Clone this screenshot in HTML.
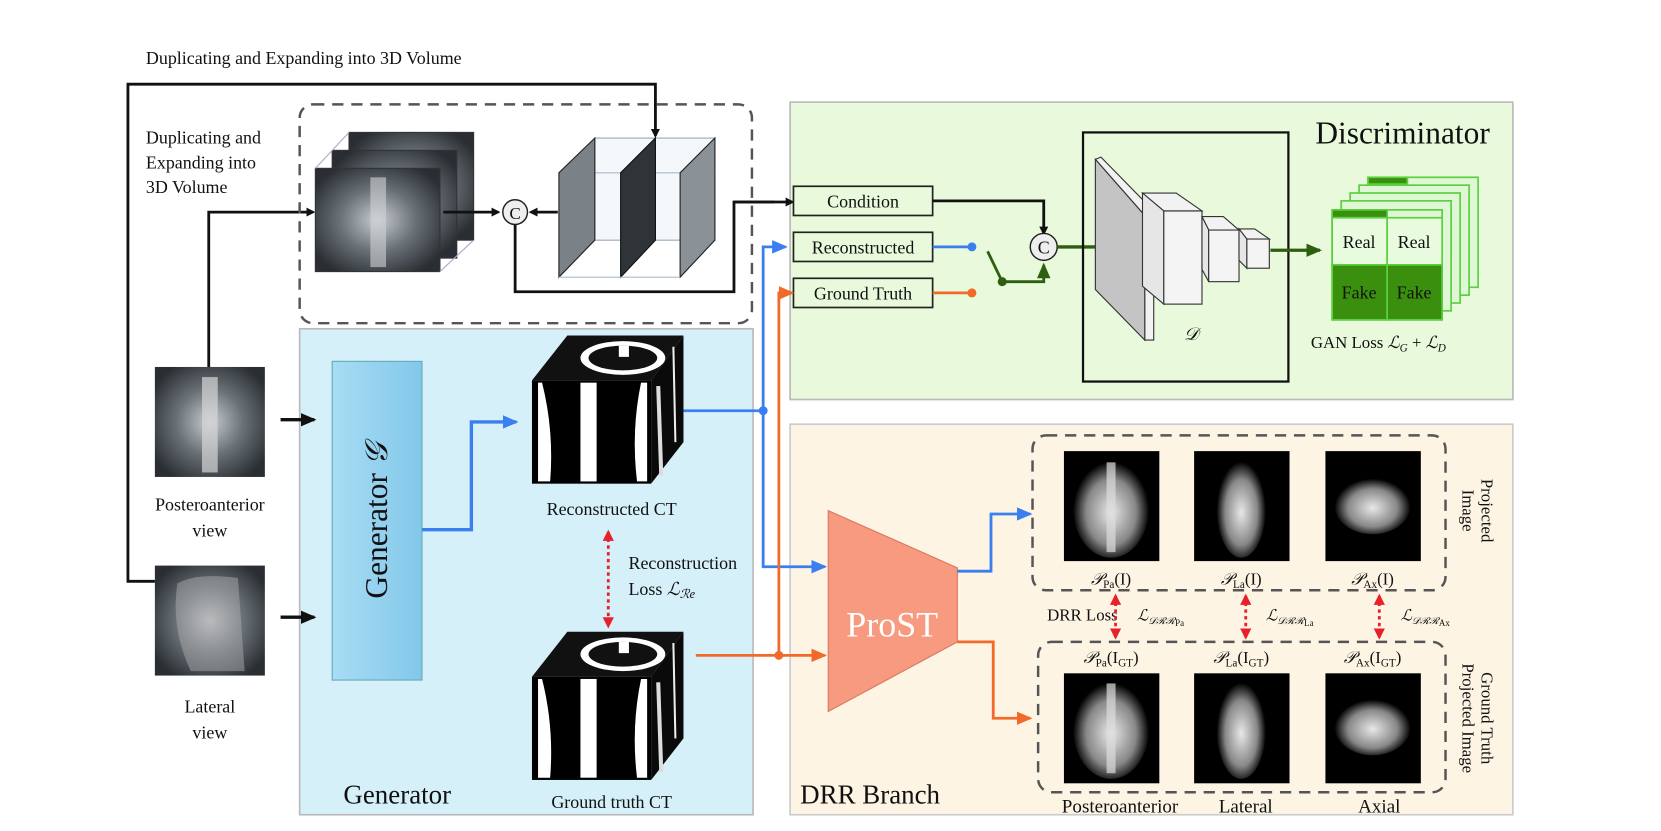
<!DOCTYPE html>
<html><head><meta charset="utf-8"><style>
html,body{margin:0;padding:0;background:#fff;}
svg{display:block;}
text{font-family:"Liberation Serif",serif;fill:#111;}
</style></head><body>
<svg width="1661" height="831" viewBox="0 0 1480 740.5" preserveAspectRatio="none" xmlns="http://www.w3.org/2000/svg">
<defs>
<marker id="ak" markerWidth="8" markerHeight="8" refX="6" refY="4" orient="auto" markerUnits="userSpaceOnUse"><path d="M0,0 L8,4 L0,8 z" fill="#111"/></marker>
<marker id="ab" markerWidth="14" markerHeight="12" refX="12" refY="6" orient="auto" markerUnits="userSpaceOnUse"><path d="M0,0 L14,6 L0,12 z" fill="#3a7ff0"/></marker>
<marker id="ao" markerWidth="14" markerHeight="12" refX="12" refY="6" orient="auto" markerUnits="userSpaceOnUse"><path d="M0,0 L14,6 L0,12 z" fill="#f26a2a"/></marker>
<marker id="ag" markerWidth="14" markerHeight="12" refX="12" refY="6" orient="auto" markerUnits="userSpaceOnUse"><path d="M0,0 L14,6 L0,12 z" fill="#2e5f0e"/></marker>
<marker id="akb" markerWidth="14" markerHeight="12" refX="12" refY="6" orient="auto" markerUnits="userSpaceOnUse"><path d="M0,0 L14,6 L0,12 z" fill="#111"/></marker>
<marker id="ar" markerWidth="10" markerHeight="10" refX="8" refY="5" orient="auto-start-reverse" markerUnits="userSpaceOnUse"><path d="M0,0 L10,5 L0,10 z" fill="#e8202a"/></marker>
<radialGradient id="xr" cx="50%" cy="50%" r="60%"><stop offset="0" stop-color="#c8ccd0"/><stop offset="0.5" stop-color="#6a7278"/><stop offset="1" stop-color="#2a2e32"/></radialGradient>
<radialGradient id="drr" cx="50%" cy="55%" r="50%"><stop offset="0" stop-color="#e8e8e8"/><stop offset="0.65" stop-color="#888"/><stop offset="1" stop-color="#000"/></radialGradient>
<linearGradient id="gen" x1="0" x2="1"><stop offset="0" stop-color="#a8dcf4"/><stop offset="1" stop-color="#82c8ea"/></linearGradient>
<g id="cube">
<rect x="0" y="40" width="118" height="92" fill="#000"/>
<path d="M0,40 L35,0 L150,0 L118,40 z" fill="#111"/>
<path d="M118,40 L150,0 L150,95 L118,132 z" fill="#0a0a0a"/>
<ellipse cx="90" cy="20" rx="42" ry="15" fill="#fff"/><ellipse cx="90" cy="20" rx="34" ry="11" fill="#111"/><rect x="86" y="9" width="10" height="10" fill="#fff"/>
<path d="M10,42 Q22,85 18,130 L6,130 L6,42 z" fill="#fff"/>
<rect x="48" y="42" width="16" height="88" fill="#fff"/>
<path d="M108,42 Q98,85 104,130 L114,130 L114,42 z" fill="#fff"/>
<path d="M125,45 L128,125" stroke="#ddd" stroke-width="4"/>
<path d="M140,10 L142,95" stroke="#eee" stroke-width="2"/>
</g>
</defs>

<!-- panels -->
<rect x="704" y="91" width="644" height="265" fill="#e8f9dc" stroke="#bbb" stroke-width="1.5"/>
<rect x="267" y="293" width="404" height="433" fill="#d6f0fa" stroke="#bbb" stroke-width="1.5"/>
<rect x="704" y="378" width="644" height="348" fill="#fdf4e4" stroke="#ccc" stroke-width="1.5"/>

<!-- top text -->
<text x="130" y="57" font-size="16">Duplicating and Expanding into 3D Volume</text>
<text x="130" y="128" font-size="16">Duplicating and</text>
<text x="130" y="150" font-size="16">Expanding into</text>
<text x="130" y="172" font-size="16">3D Volume</text>

<!-- top loop line -->
<path d="M138,518 L114,518 L114,75 L584,75 L584,121" fill="none" stroke="#111" stroke-width="2.5" marker-end="url(#ak)"/>
<path d="M186,327 L186,189 L279,189" fill="none" stroke="#111" stroke-width="2.5" marker-end="url(#ak)"/>

<!-- dashed box top -->
<rect x="267" y="93" width="403" height="195" rx="12" fill="none" stroke="#555" stroke-width="2.2" stroke-dasharray="10,7"/>

<!-- PA stack -->
<g>
<rect x="311" y="118" width="111" height="96" fill="url(#xr)" stroke="#333"/>
<rect x="296" y="134" width="111" height="96" fill="url(#xr)" stroke="#333"/>
<rect x="281" y="150" width="111" height="92" fill="url(#xr)" stroke="#333"/>
<rect x="330" y="158" width="14" height="80" fill="#d0d4d6" opacity="0.6"/>
<path d="M281,150 L311,118 M392,242 L422,214" stroke="#aac" stroke-width="1" fill="none"/>
</g>
<path d="M395,189 L444,189" stroke="#111" stroke-width="2.5" marker-end="url(#ak)"/>
<circle cx="459" cy="189" r="11" fill="#eee" stroke="#222" stroke-width="1.3"/>
<text x="459" y="195" font-size="15" text-anchor="middle">C</text>
<path d="M497,189 L473,189" stroke="#111" stroke-width="2.5" marker-end="url(#ak)"/>
<!-- volume slices -->
<g>
<path d="M530,123 L637,123 L637,214 L530,214 z" fill="#f4f8fb" stroke="#9ab" stroke-width="1"/>
<path d="M530,154 L637,154" stroke="#abc" stroke-width="1" fill="none"/>
<path d="M498,154 L530,123 L530,214 L498,247 z" fill="#7a8288" stroke="#222"/>
<path d="M553,154 L584,123 L584,214 L553,247 z" fill="#2e3438" stroke="#111"/>
<path d="M606,154 L637,123 L637,214 L606,247 z" fill="#8a9298" stroke="#222"/>
<path d="M498,247 L606,247" stroke="#abc" stroke-width="1" fill="none"/>
</g>
<path d="M459,200 L459,260 L654,260 L654,180 L690,180" fill="none" stroke="#111" stroke-width="2.5"/>
<path d="M654,180 L706,180" stroke="#111" stroke-width="2.5" marker-end="url(#ak)"/>

<!-- Discriminator -->
<text x="1172" y="128" font-size="28">Discriminator</text>
<rect x="707" y="166" width="124" height="26" fill="#e8f9dc" stroke="#222" stroke-width="1.5"/>
<text x="769" y="185" font-size="16" text-anchor="middle">Condition</text>
<rect x="707" y="207" width="124" height="26" fill="#e8f9dc" stroke="#222" stroke-width="1.5"/>
<text x="769" y="226" font-size="16" text-anchor="middle">Reconstructed</text>
<rect x="707" y="248" width="124" height="26" fill="#e8f9dc" stroke="#222" stroke-width="1.5"/>
<text x="769" y="267" font-size="16" text-anchor="middle">Ground Truth</text>
<path d="M831,179 L930,179 L930,208" fill="none" stroke="#111" stroke-width="2.5" marker-end="url(#ak)"/>
<path d="M831,220 L866,220" stroke="#3a7ff0" stroke-width="2.5"/><circle cx="866" cy="220" r="4" fill="#3a7ff0"/>
<path d="M831,261 L866,261" stroke="#f26a2a" stroke-width="2.5"/><circle cx="866" cy="261" r="4" fill="#f26a2a"/>
<path d="M880,224 L893,251" stroke="#2e5f0e" stroke-width="2.5"/><circle cx="893" cy="251" r="4" fill="#2e5f0e"/>
<path d="M893,251 L930,251 L930,236" fill="none" stroke="#2e5f0e" stroke-width="2.5" marker-end="url(#ag)"/>
<circle cx="930" cy="220" r="12" fill="#eee" stroke="#222" stroke-width="1.3"/>
<text x="930" y="226" font-size="16" text-anchor="middle">C</text>
<path d="M942,220 L990,220" stroke="#2e5f0e" stroke-width="3" marker-end="url(#ag)"/>
<rect x="965" y="118" width="183" height="222" fill="none" stroke="#111" stroke-width="2"/>
<!-- D blocks -->
<path d="M976,142 L981,140 L1028,188 L1028,303 L1020,303 L1020,192 z" fill="#f2f2f2" stroke="#333"/>
<path d="M976,142 L1020,192 L1020,303 L976,258 z" fill="#c4c4c4" stroke="#333"/>
<path d="M1018,172 L1048,172 L1071,188 L1037,188 z" fill="#f2f2f2" stroke="#333"/>
<path d="M1018,172 L1037,188 L1037,271 L1018,255 z" fill="#e6e6e6" stroke="#333"/>
<rect x="1037" y="188" width="34" height="83" fill="#f4f4f4" stroke="#333"/>
<path d="M1071,193 L1090,193 L1104,205 L1077,205 z" fill="#f2f2f2" stroke="#333"/>
<path d="M1071,193 L1077,205 L1077,251 L1071,240 z" fill="#e6e6e6" stroke="#333"/>
<rect x="1077" y="205" width="27" height="46" fill="#f4f4f4" stroke="#333"/>
<path d="M1104,204 L1118,204 L1131,213 L1111,213 z" fill="#f2f2f2" stroke="#333"/>
<path d="M1104,204 L1111,213 L1111,239 L1104,232 z" fill="#e6e6e6" stroke="#333"/>
<rect x="1111" y="213" width="20" height="26" fill="#f4f4f4" stroke="#333"/>
<text x="1055" y="303" font-size="16" font-style="italic">𝒟</text>
<path d="M1132,223 L1176,223" stroke="#2e5f0e" stroke-width="3" marker-end="url(#ag)"/>
<!-- real/fake stack -->
<g stroke="#5ad040" stroke-width="1.5">
<rect x="1219" y="158" width="98" height="98" fill="#dff7d4"/>
<rect x="1211" y="165" width="98" height="98" fill="#dff7d4"/>
<rect x="1203" y="172" width="98" height="98" fill="#dff7d4"/>
<rect x="1195" y="179" width="98" height="98" fill="#dff7d4"/>
<rect x="1219" y="158" width="35" height="6" fill="#3b8f0e"/>
<rect x="1187" y="187" width="98" height="98" fill="#dff7d4"/>
<rect x="1187" y="187" width="49" height="7" fill="#3b8f0e"/>
<rect x="1187" y="194" width="49" height="42" fill="#e8fbdf"/>
<rect x="1236" y="194" width="49" height="42" fill="#e8fbdf"/>
<rect x="1187" y="236" width="49" height="49" fill="#3b8f0e"/>
<rect x="1236" y="236" width="49" height="49" fill="#3b8f0e"/>
</g>
<text x="1211" y="221" font-size="16" text-anchor="middle">Real</text>
<text x="1260" y="221" font-size="16" text-anchor="middle">Real</text>
<text x="1211" y="266" font-size="16" text-anchor="middle">Fake</text>
<text x="1260" y="266" font-size="16" text-anchor="middle">Fake</text>
<text x="1168" y="310" font-size="15">GAN Loss <tspan font-style="italic">ℒ</tspan><tspan font-size="10" dy="3" font-style="italic">G</tspan><tspan dy="-3"> + </tspan><tspan font-style="italic">ℒ</tspan><tspan font-size="10" dy="3" font-style="italic">D</tspan></text>

<!-- left inputs -->
<rect x="138" y="327" width="98" height="98" fill="url(#xr)"/><rect x="180" y="336" width="14" height="85" fill="#d5d5d5" opacity="0.7"/>
<text x="187" y="455" font-size="16" text-anchor="middle">Posteroanterior</text>
<text x="187" y="478" font-size="16" text-anchor="middle">view</text>
<rect x="138" y="504" width="98" height="98" fill="url(#xr)"/>
<path d="M158,520 Q175,510 212,515 L218,598 L170,598 Q152,560 158,520z" fill="#aaa" opacity="0.5"/>
<text x="187" y="635" font-size="16" text-anchor="middle">Lateral</text>
<text x="187" y="658" font-size="16" text-anchor="middle">view</text>
<path d="M250,374 L280,374" stroke="#111" stroke-width="3" marker-end="url(#akb)"/>
<path d="M250,550 L280,550" stroke="#111" stroke-width="3" marker-end="url(#akb)"/>

<!-- generator -->
<rect x="296" y="322" width="80" height="284" fill="url(#gen)" stroke="#6ab" stroke-width="1"/>
<text transform="translate(345,464) rotate(-90)" font-size="28" text-anchor="middle">Generator <tspan font-style="italic">𝒢</tspan></text>
<path d="M376,472 L420,472 L420,376 L460,376" fill="none" stroke="#3a7ff0" stroke-width="3" marker-end="url(#ab)"/>
<g transform="translate(474,299) scale(0.9,1)"><use href="#cube"/></g>
<text x="545" y="459" font-size="16" text-anchor="middle">Reconstructed CT</text>
<path d="M542,474 L542,558" stroke="#e8202a" stroke-width="2.5" stroke-dasharray="3,3" marker-start="url(#ar)" marker-end="url(#ar)"/>
<text x="560" y="507" font-size="16">Reconstruction</text>
<text x="560" y="530" font-size="16">Loss  <tspan font-style="italic">ℒ</tspan><tspan font-size="11" dy="3" font-style="italic">ℛe</tspan></text>
<g transform="translate(474,563) scale(0.9,1)"><use href="#cube"/></g>
<text x="545" y="720" font-size="16" text-anchor="middle">Ground truth CT</text>
<text x="306" y="716" font-size="24">Generator</text>

<!-- blue/orange routing -->
<path d="M609,366 L680,366 L680,220 L700,220" fill="none" stroke="#3a7ff0" stroke-width="2.5" marker-end="url(#ab)"/>
<circle cx="680" cy="366" r="4" fill="#3a7ff0"/>
<path d="M680,366 L680,505 L735,505" fill="none" stroke="#3a7ff0" stroke-width="2.5" marker-end="url(#ab)"/>
<path d="M620,584 L694,584 L694,261 L700,261" fill="none" stroke="#f26a2a" stroke-width="2.5"/>
<path d="M694,261 L706,261" stroke="#f26a2a" stroke-width="2.5" marker-end="url(#ao)"/>
<circle cx="694" cy="584" r="4" fill="#f26a2a"/>
<path d="M694,584 L735,584" stroke="#f26a2a" stroke-width="2.5" marker-end="url(#ao)"/>

<!-- DRR branch -->
<path d="M738,455 L853,506 L853,572 L738,634 z" fill="#f79a80" stroke="#d87a60" stroke-width="1"/>
<text x="795" y="567" font-size="32" text-anchor="middle" style="fill:#fff">ProST</text>
<text x="713" y="716" font-size="24">DRR Branch</text>
<path d="M853,509 L883,509 L883,458 L918,458" fill="none" stroke="#3a7ff0" stroke-width="2.5" marker-end="url(#ab)"/>
<path d="M853,572 L885,572 L885,640 L918,640" fill="none" stroke="#f26a2a" stroke-width="2.5" marker-end="url(#ao)"/>

<rect x="920" y="388" width="368" height="138" rx="12" fill="none" stroke="#555" stroke-width="2.2" stroke-dasharray="10,7"/>
<rect x="925" y="572" width="363" height="134" rx="12" fill="none" stroke="#555" stroke-width="2.2" stroke-dasharray="10,7"/>
<g>
<rect x="948" y="402" width="85" height="98" fill="#000"/><ellipse cx="990" cy="452" rx="34" ry="45" fill="url(#drr)"/><rect x="986" y="412" width="8" height="80" fill="#ddd" opacity="0.7"/>
<rect x="1064" y="402" width="85" height="98" fill="#000"/><ellipse cx="1106" cy="452" rx="22" ry="45" fill="url(#drr)"/>
<rect x="1181" y="402" width="85" height="98" fill="#000"/><ellipse cx="1223" cy="450" rx="34" ry="26" fill="url(#drr)"/>
<rect x="948" y="600" width="85" height="98" fill="#000"/><ellipse cx="990" cy="649" rx="34" ry="45" fill="url(#drr)"/><rect x="986" y="609" width="8" height="80" fill="#ddd" opacity="0.7"/>
<rect x="1064" y="600" width="85" height="98" fill="#000"/><ellipse cx="1106" cy="649" rx="22" ry="45" fill="url(#drr)"/>
<rect x="1181" y="600" width="85" height="98" fill="#000"/><ellipse cx="1223" cy="647" rx="34" ry="26" fill="url(#drr)"/>
</g>
<g font-size="15">
<text x="990" y="521" text-anchor="middle"><tspan font-style="italic">𝒫</tspan><tspan font-size="10" dy="3">Pa</tspan><tspan dy="-3">(I)</tspan></text>
<text x="1106" y="521" text-anchor="middle"><tspan font-style="italic">𝒫</tspan><tspan font-size="10" dy="3">La</tspan><tspan dy="-3">(I)</tspan></text>
<text x="1223" y="521" text-anchor="middle"><tspan font-style="italic">𝒫</tspan><tspan font-size="10" dy="3">Ax</tspan><tspan dy="-3">(I)</tspan></text>
<text x="990" y="591" text-anchor="middle"><tspan font-style="italic">𝒫</tspan><tspan font-size="10" dy="3">Pa</tspan><tspan dy="-3">(I</tspan><tspan font-size="10" dy="3">GT</tspan><tspan dy="-3">)</tspan></text>
<text x="1106" y="591" text-anchor="middle"><tspan font-style="italic">𝒫</tspan><tspan font-size="10" dy="3">La</tspan><tspan dy="-3">(I</tspan><tspan font-size="10" dy="3">GT</tspan><tspan dy="-3">)</tspan></text>
<text x="1223" y="591" text-anchor="middle"><tspan font-style="italic">𝒫</tspan><tspan font-size="10" dy="3">Ax</tspan><tspan dy="-3">(I</tspan><tspan font-size="10" dy="3">GT</tspan><tspan dy="-3">)</tspan></text>
</g>
<text x="933" y="553" font-size="15">DRR Loss</text>
<path d="M994,531 L994,568" stroke="#e8202a" stroke-width="2.5" stroke-dasharray="3,3" marker-start="url(#ar)" marker-end="url(#ar)"/>
<path d="M1110,531 L1110,568" stroke="#e8202a" stroke-width="2.5" stroke-dasharray="3,3" marker-start="url(#ar)" marker-end="url(#ar)"/>
<path d="M1229,531 L1229,568" stroke="#e8202a" stroke-width="2.5" stroke-dasharray="3,3" marker-start="url(#ar)" marker-end="url(#ar)"/>
<g font-size="14" font-style="italic">
<text x="1013" y="553">ℒ<tspan font-size="9" dy="3">𝒟ℛℛ</tspan><tspan font-size="8" dy="2" font-style="normal">Pa</tspan></text>
<text x="1128" y="553">ℒ<tspan font-size="9" dy="3">𝒟ℛℛ</tspan><tspan font-size="8" dy="2" font-style="normal">La</tspan></text>
<text x="1248" y="553">ℒ<tspan font-size="9" dy="3">𝒟ℛℛ</tspan><tspan font-size="8" dy="2" font-style="normal">Ax</tspan></text>
</g>
<text transform="translate(1320,455) rotate(90)" font-size="15" text-anchor="middle">Projected</text>
<text transform="translate(1303,455) rotate(90)" font-size="15" text-anchor="middle">Image</text>
<text transform="translate(1320,640) rotate(90)" font-size="15" text-anchor="middle">Ground Truth</text>
<text transform="translate(1303,640) rotate(90)" font-size="15" text-anchor="middle">Projected Image</text>
<text x="998" y="724" font-size="17" text-anchor="middle">Posteroanterior</text>
<text x="1110" y="724" font-size="17" text-anchor="middle">Lateral</text>
<text x="1229" y="724" font-size="17" text-anchor="middle">Axial</text>
</svg>
</body></html>
